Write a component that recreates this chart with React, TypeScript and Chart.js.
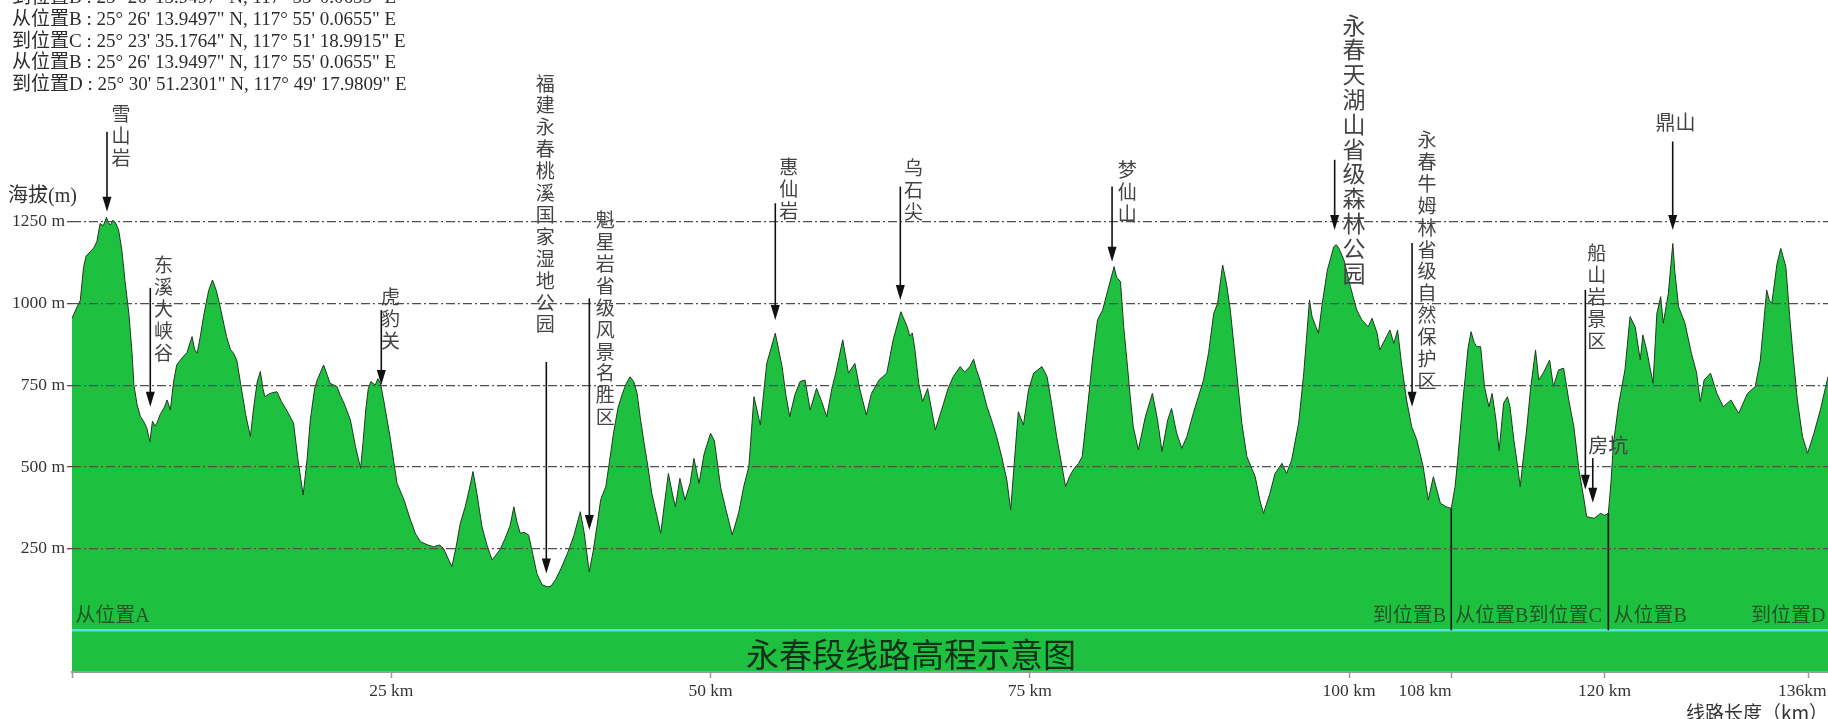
import React, { useEffect, useRef } from "react";
import { Chart, registerables } from "chart.js";

Chart.register(...registerables);

// ---------------- data (km, elevation m) ----------------
const profileAtoB: [number, number][] = [
  [0, 955], [0.4, 990], [0.65, 1010], [0.9, 1110], [1.1, 1145], [1.45, 1160], [1.7, 1170], [1.95, 1190],
  [2.2, 1245], [2.45, 1238], [2.7, 1264], [2.85, 1248], [3.0, 1240], [3.2, 1255], [3.4, 1248], [3.65, 1225],
  [3.9, 1165], [4.15, 1070], [4.45, 970], [4.7, 850], [4.85, 750], [5.1, 690], [5.35, 655], [5.6, 640],
  [5.85, 620], [6.1, 577], [6.3, 640], [6.5, 625], [6.65, 634], [6.9, 660], [7.2, 680], [7.45, 705],
  [7.7, 674], [7.95, 760], [8.2, 812], [8.6, 833], [9.0, 850], [9.4, 899], [9.6, 860], [9.8, 848],
  [10.05, 900], [10.3, 960], [10.7, 1040], [11.0, 1072], [11.3, 1040], [11.6, 990], [12.1, 899], [12.4, 860],
  [12.65, 848], [12.9, 827], [13.2, 756], [13.6, 660], [13.97, 593], [14.2, 674], [14.5, 760], [14.75, 792],
  [14.95, 740], [15.1, 715], [15.5, 725], [16.05, 730], [16.4, 700], [16.8, 674], [17.35, 634], [17.7, 520],
  [18.1, 414], [18.4, 520], [18.66, 644], [19.0, 740], [19.2, 766], [19.7, 812], [20.0, 780], [20.2, 756],
  [20.75, 746], [21.0, 720], [21.3, 695], [21.8, 644], [22.2, 562], [22.6, 496], [22.8, 580], [23.0, 674],
  [23.2, 740], [23.4, 761], [23.75, 751], [23.95, 770], [24.15, 756], [24.4, 705], [24.9, 593], [25.45, 450],
  [26.0, 399], [26.5, 338], [26.9, 295], [27.3, 271], [27.8, 262], [28.3, 256], [28.8, 261], [29.1, 250],
  [29.5, 215], [29.75, 195], [30.1, 260], [30.4, 327], [30.8, 380], [31.1, 430], [31.4, 486], [31.7, 420],
  [32.1, 317], [32.5, 260], [32.9, 215], [33.5, 246], [33.9, 280], [34.3, 320], [34.6, 378], [34.85, 330],
  [35.1, 297], [35.4, 300], [35.75, 292], [36.1, 230], [36.4, 174], [36.8, 140], [37.2, 133], [37.5, 135],
  [37.85, 154], [38.3, 190], [38.8, 236], [39.3, 290], [39.8, 363], [40.1, 300], [40.5, 179], [40.8, 240],
  [41.1, 317], [41.4, 400], [41.8, 440], [42.1, 520], [42.4, 603], [42.75, 680], [43.1, 725], [43.4, 755],
  [43.7, 776], [44.0, 760], [44.25, 725], [44.5, 650], [44.8, 572], [45.1, 500], [45.4, 419], [45.8, 350],
  [46.1, 297], [46.4, 390], [46.7, 480], [47.0, 420], [47.25, 378], [47.6, 465], [48.0, 399], [48.4, 450],
  [48.7, 526], [49.1, 450], [49.5, 540], [50.0, 603], [50.3, 580], [50.8, 435], [51.2, 370], [51.7, 292],
  [52.2, 360], [52.6, 440], [53.0, 501], [53.4, 715], [53.9, 628], [54.4, 817], [55.07, 909], [55.6, 807],
  [55.9, 720], [56.2, 654], [56.6, 720], [57.0, 761], [57.4, 766], [57.8, 674], [58.3, 741], [58.7, 700],
  [59.1, 654], [59.5, 740], [59.8, 787], [60.35, 889], [60.8, 787], [61.3, 817], [61.7, 736], [62.2, 659],
  [62.6, 725], [63.2, 766], [63.8, 787], [64.3, 889], [64.9, 975], [65.4, 929], [65.6, 900], [65.8, 910],
  [66.0, 860], [66.3, 756], [66.6, 700], [67.0, 740], [67.6, 613], [68.25, 695], [68.6, 740], [69.0, 776],
  [69.55, 807], [69.9, 790], [70.3, 807], [70.6, 830], [70.8, 800], [71.1, 766], [71.65, 684], [72.0, 644],
  [72.4, 593], [72.8, 531], [73.2, 460], [73.5, 368], [73.9, 572], [74.1, 669], [74.5, 628], [74.9, 736],
  [75.3, 787], [75.95, 807], [76.35, 776], [76.7, 695], [77.1, 593], [77.8, 440], [78.1, 470], [78.4, 491],
  [78.8, 510], [79.1, 531], [79.5, 674], [79.9, 827], [80.3, 950], [80.7, 980], [81.1, 1040], [81.6, 1113],
  [81.8, 1080], [82.1, 1067], [82.35, 930], [82.6, 827], [82.85, 720], [83.1, 623], [83.5, 552], [84.05, 654],
  [84.6, 725], [85.0, 644], [85.35, 547], [85.8, 644], [86.1, 679], [86.5, 603], [86.9, 557], [87.3, 593],
  [87.8, 664], [88.2, 715], [88.6, 766], [89.0, 850], [89.4, 970], [89.7, 1000], [90.1, 1118], [90.4, 1060],
  [90.7, 980], [91.1, 827], [91.6, 634], [92.0, 531], [92.65, 470], [93.0, 400], [93.3, 358], [93.8, 419],
  [94.2, 480], [94.75, 511], [95.1, 480], [95.5, 521], [96.05, 634], [96.45, 787], [96.9, 1011], [97.1, 960],
  [97.4, 929], [97.6, 909], [97.9, 1001], [98.3, 1103], [98.8, 1174], [99.0, 1180], [99.2, 1169], [99.6, 1133],
  [100.1, 1052], [100.6, 980], [101.0, 950], [101.5, 929], [101.8, 955], [102.2, 909], [102.4, 858], [102.8, 889],
  [103.2, 919], [103.5, 878], [103.8, 919], [104.1, 817], [104.5, 705], [104.9, 623], [105.3, 583], [105.8, 501],
  [106.2, 399], [106.6, 470], [107.15, 389], [107.6, 378], [108.0, 373],
];

const profileBtoC: [number, number][] = [
  [108.0, 373], [108.3, 440], [108.5, 520], [108.7, 610], [108.9, 700], [109.1, 776], [109.3, 860], [109.55, 914],
  [109.8, 880], [110.0, 868], [110.3, 868], [110.6, 746], [110.95, 684], [111.2, 725], [111.5, 644], [111.75, 550],
  [112.1, 695], [112.4, 715], [112.6, 684], [112.9, 583], [113.2, 500], [113.4, 440], [113.65, 530], [113.9, 613],
  [114.2, 736], [114.6, 858], [114.85, 766], [115.2, 787], [115.7, 827], [116.0, 746], [116.4, 797], [116.8, 802],
  [117.2, 705], [117.6, 623], [118.0, 491], [118.4, 399], [118.6, 348], [118.9, 345], [119.2, 343], [119.7, 358],
  [120.0, 352], [120.3, 358],
];

const profileBtoD: [number, number][] = [
  [120.3, 358], [120.5, 450], [120.7, 572], [121.1, 690], [121.6, 797], [122.0, 960], [122.4, 929], [122.8, 827],
  [123.0, 904], [123.3, 858], [123.5, 817], [123.8, 756], [124.1, 970], [124.4, 1021], [124.6, 940], [125.0, 1031],
  [125.2, 1120], [125.35, 1184], [125.5, 1100], [125.8, 990], [126.3, 940], [126.8, 848], [127.2, 790], [127.5, 700],
  [127.8, 766], [128.3, 787], [128.8, 725], [129.3, 684], [129.9, 705], [130.5, 664], [131.2, 725], [131.8, 746],
  [132.2, 827], [132.7, 1041], [132.9, 1010], [133.1, 1001], [133.5, 1120], [133.8, 1169], [134.2, 1113], [134.5, 960],
  [134.8, 827], [135.1, 705], [135.5, 593], [135.9, 542], [136.4, 603], [136.9, 674], [137.5, 776],
];

const segmentBreakKm = [108, 120.3];
const segmentBreakTopM = [373, 358];

const xTickKm = [0, 25, 50, 75, 100, 108, 120, 136];
const yTickM = [250, 500, 750, 1000, 1250];

const landmarkNames = [
  "雪山岩", "东溪大峡谷", "虎豹关", "福建永春桃溪国家湿地公园", "魁星岩省级风景名胜区", "惠仙岩",
  "乌石尖", "梦仙山", "永春天湖山省级森林公园", "永春牛姆林省级自然保护区", "船山岩景区", "房坑", "鼎山",
];
const landmarkKm = [2.74, 6.13, 24.22, 37.14, 40.51, 55.07, 64.86, 81.44, 98.87, 104.93, 118.5, 119.08, 125.34];
const landmarkTipM = [1281, 684, 751, 174, 307, 950, 1011, 1128, 1225, 684, 430, 390, 1225];
const landmarkTailM = [1526, 1048, 980, 821, 1016, 1307, 1358, 1358, 1440, 1185, 1042, 527, 1496];
const landmarkLabelKm = [3.84, 7.17, 24.93, 37.06, 41.76, 56.12, 65.9, 82.62, 100.38, 106.1, 119.4, 120.3, 125.55];
const landmarkLabelM = [1580, 1118, 1020, 1674, 1256, 1419, 1415, 1409, 1853, 1501, 1155, 567, 1553];

const segmentLabels = ["从位置A", "到位置B", "从位置B到位置C", "从位置B", "到位置D"];
const segmentLabelKm = [0.25, 107.6, 108.3, 120.7, 137.3];
const segmentLabelAlign = ["left", "right", "left", "left", "right"];
const segmentLabelM = 40;

const coordLines = [
  "到位置B : 25° 26' 13.9497\" N, 117° 55' 0.0655\" E",
  "从位置B : 25° 26' 13.9497\" N, 117° 55' 0.0655\" E",
  "到位置C : 25° 23' 35.1764\" N, 117° 51' 18.9915\" E",
  "从位置B : 25° 26' 13.9497\" N, 117° 55' 0.0655\" E",
  "到位置D : 25° 30' 51.2301\" N, 117° 49' 17.9809\" E",
];

const chartTitle = "永春段线路高程示意图";
const chartTitleKm = 65.7;
const chartTitleM = -75;

// ---------------- styles ----------------
const GREEN = "#1ec13f";
const SERIF = '"Liberation Serif", "Noto Sans CJK SC", serif';
const CJK = '"Noto Sans CJK SC", sans-serif';
const NB = "\u00a0";

const xTickLabel = (v: number) => {
  if (v === 0) return "";
  if (v === 108) return `${v} km` + NB.repeat(12); // label sits left of its tick
  if (v === 136) return `${v}km` + NB.repeat(3);
  return `${v} km`;
};

const overlayPlugin = {
  id: "overlay",
  afterDraw(chart: any) {
    const { ctx, scales } = chart;
    const xs = scales.x;
    const ys = scales.y;
    const px = (v: number) => xs.getPixelForValue(v);
    const py = (v: number) => ys.getPixelForValue(v);
    ctx.save();

    // coordinate block
    ctx.fillStyle = "#2b2b2b";
    ctx.font = `19px ${SERIF}`;
    ctx.textAlign = "left";
    ctx.textBaseline = "middle";
    coordLines.forEach((t, i) => ctx.fillText(t, 12, -1.7 + i * 21.7));

    // y-axis title
    ctx.font = `20px ${SERIF}`;
    ctx.fillStyle = "#333";
    ctx.fillText("海拔(m)", 8, py(1250) - 25);

    // landmarks
    landmarkNames.forEach((name, i) => {
      const ax = px(landmarkKm[i]);
      const tip = py(landmarkTipM[i]);
      const tail = py(landmarkTailM[i]);
      ctx.strokeStyle = "#111";
      ctx.fillStyle = "#111";
      ctx.lineWidth = 1.6;
      ctx.beginPath();
      ctx.moveTo(ax, tail);
      ctx.lineTo(ax, tip - 12);
      ctx.stroke();
      ctx.beginPath();
      ctx.moveTo(ax - 4.5, tip - 15);
      ctx.lineTo(ax + 4.5, tip - 15);
      ctx.lineTo(ax, tip);
      ctx.closePath();
      ctx.fill();

      const lx = px(landmarkLabelKm[i]);
      const ly = py(landmarkLabelM[i]);
      const big = i === 8;
      const vertical = i < 11;
      ctx.fillStyle = "#444";
      ctx.textAlign = "center";
      ctx.textBaseline = "middle";
      ctx.font = `${big ? 23 : 19}px ${CJK}`;
      if (vertical) {
        const step = big ? 24.8 : 21.9;
        Array.from(name).forEach((c, k) => ctx.fillText(c, lx, ly + k * step));
      } else {
        ctx.font = `20px ${CJK}`;
        ctx.fillText(name, lx, ly);
      }
    });

    // segment labels
    ctx.fillStyle = "#1f5527";
    ctx.font = `20px ${SERIF}`;
    ctx.textBaseline = "middle";
    segmentLabels.forEach((t, i) => {
      ctx.textAlign = segmentLabelAlign[i] as CanvasTextAlign;
      ctx.fillText(t, px(segmentLabelKm[i]), py(segmentLabelM));
    });

    // chart title
    ctx.fillStyle = "#10301a";
    ctx.font = `33px ${CJK}`;
    ctx.textAlign = "center";
    ctx.fillText(chartTitle, px(chartTitleKm), py(chartTitleM));

    ctx.restore();
  },
};

export default function App() {
  const canvasRef = useRef<HTMLCanvasElement>(null);

  useEffect(() => {
    const profile = [...profileAtoB, ...profileBtoC.slice(1), ...profileBtoD.slice(1)].map(([x, y]) => ({ x, y }));
    const breakSets = segmentBreakKm.map((km, i) => ({
      label: "break" + i,
      data: [{ x: km, y: segmentBreakTopM[i] }, { x: km, y: 0 }],
      borderColor: "#111",
      borderWidth: 1.6,
      pointRadius: 0,
      fill: false,
    }));
    const chart = new Chart(canvasRef.current!, {
      type: "line",
      data: {
        datasets: [
          ...breakSets,
          {
            label: "zero",
            data: [{ x: 0, y: 0 }, { x: 137.5, y: 0 }],
            borderColor: "#55e2d3",
            borderWidth: 2.5,
            pointRadius: 0,
            fill: false,
          },
          {
            label: "elevation",
            data: profile,
            borderColor: "#1d3a20",
            borderWidth: 1,
            backgroundColor: GREEN,
            pointRadius: 0,
            tension: 0,
            fill: "start",
          },
        ],
      },
      options: {
        responsive: false,
        animation: false,
        devicePixelRatio: 1,
        layout: { padding: 0 },
        plugins: { legend: { display: false }, tooltip: { enabled: false }, title: { display: false } },
        scales: {
          x: {
            type: "linear",
            min: 0,
            max: 137.5,
            afterBuildTicks: (s: any) => {
              s.ticks = xTickKm.map((v) => ({ value: v }));
            },
            afterFit: (s: any) => {
              s.height = 47;
              s.paddingLeft = 0;
              s.paddingRight = 0;
            },
            ticks: {
              autoSkip: false,
              maxRotation: 0,
              padding: 3,
              color: "#333",
              font: { family: SERIF, size: 17.5 },
              callback: (v: any) => xTickLabel(v),
            },
            grid: { drawOnChartArea: false, drawTicks: true, tickLength: 6, tickColor: "#999", tickWidth: 1.5 },
            border: { display: true, color: "#9a9a9a", width: 2, z: 1 },
            title: {
              display: true,
              text: "线路长度（km）",
              align: "end",
              color: "#333",
              font: { family: CJK, size: 19 },
              padding: { top: 0, bottom: -5 },
            },
          },
          y: {
            type: "linear",
            min: -127.6,
            max: 1929,
            afterBuildTicks: (s: any) => {
              s.ticks = yTickM.map((v) => ({ value: v }));
            },
            afterFit: (s: any) => {
              s.width = 72;
              s.paddingTop = 0;
              s.paddingBottom = 0;
            },
            ticks: {
              padding: 2,
              color: "#333",
              font: { family: SERIF, size: 17.5 },
              callback: (v: any) => `${v} m`,
            },
            grid: { color: "#505050", lineWidth: 1.3, tickLength: 5, tickColor: "#505050", z: 1 },
            border: { display: false, dash: [9, 3, 2, 3] },
          },
        },
      },
      plugins: [overlayPlugin],
    } as any);
    return () => chart.destroy();
  }, []);

  return (
    <div style={{ position: "fixed", left: 0, top: 0, width: 1828, height: 719, background: "#fff" }}>
      <canvas ref={canvasRef} width={1828} height={719} style={{ display: "block", width: 1828, height: 719 }} />
    </div>
  );
}
